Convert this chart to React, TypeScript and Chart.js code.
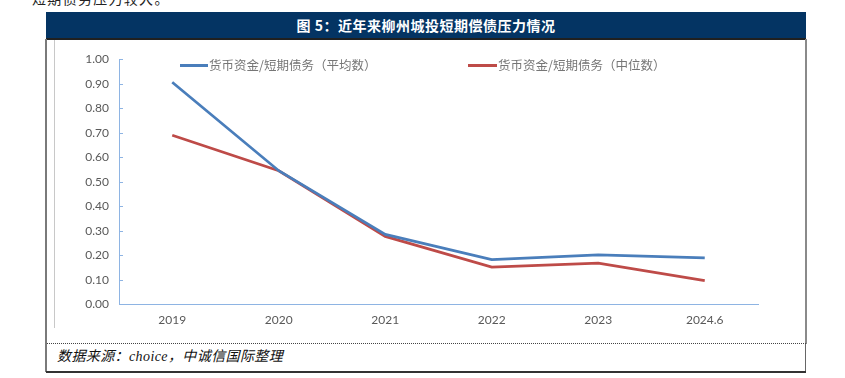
import React, { useEffect, useRef } from "react";
import { Chart, registerables } from "chart.js";

Chart.register(...registerables);

const categories = ["2019", "2020", "2021", "2022", "2023", "2024.6"];
const avgValues = [0.906, 0.545, 0.285, 0.182, 0.202, 0.189];
const medianValues = [0.69, 0.545, 0.277, 0.152, 0.168, 0.097];
const seriesLabels = ["货币资金/短期债务（平均数）", "货币资金/短期债务（中位数）"];
const seriesColors = ["#4A7EBB", "#BE4B48"];
const yMin = 0;
const yMax = 1;
const yStep = 0.1;
const titleText = "图 5：近年来柳州城投短期偿债压力情况";
const sourceText = "数据来源：choice，中诚信国际整理";
const prevText = "短期债务压力较大。";

const axisColor = "#8EB4E3";

const innerTicks = {
  id: "innerTicks",
  afterDraw(chart: any) {
    const y = chart.scales.y;
    const ctx = chart.ctx;
    ctx.save();
    ctx.strokeStyle = axisColor;
    ctx.lineWidth = 1;
    y.ticks.forEach((t: any) => {
      const py = Math.round(y.getPixelForValue(t.value)) + 0.5;
      ctx.beginPath();
      ctx.moveTo(y.right, py);
      ctx.lineTo(y.right + 4, py);
      ctx.stroke();
    });
    ctx.restore();
  },
};

function ChartCanvas() {
  const ref = useRef<HTMLCanvasElement>(null);
  useEffect(() => {
    if (!ref.current) return;
    const chart = new Chart(ref.current, {
      type: "line",
      data: {
        labels: categories,
        datasets: [
          {
            label: seriesLabels[0],
            data: avgValues,
            borderColor: seriesColors[0],
            backgroundColor: seriesColors[0],
            borderWidth: 2.75,
            pointRadius: 0,
            tension: 0,
          },
          {
            label: seriesLabels[1],
            data: medianValues,
            borderColor: seriesColors[1],
            backgroundColor: seriesColors[1],
            borderWidth: 2.75,
            pointRadius: 0,
            tension: 0,
          },
        ],
      },
      options: {
        responsive: false,
        animation: false,
        devicePixelRatio: 1,
        layout: { padding: { top: 13, right: 42, bottom: 0, left: 0 } },
        plugins: { legend: { display: false }, tooltip: { enabled: false } },
        scales: {
          x: {
            offset: true,
            grid: { display: false, drawTicks: false },
            border: { display: true, color: axisColor, width: 1 },
            ticks: {
              padding: 9,
              color: "#595959",
              font: { family: "Lato, 'Liberation Sans', sans-serif", size: 12 },
              maxRotation: 0,
            },
            afterFit: (s: any) => {
              s.height = 29.7;
            },
          },
          y: {
            min: yMin,
            max: yMax,
            grid: { display: false, drawTicks: false },
            border: { display: true, color: axisColor, width: 1 },
            ticks: {
              stepSize: yStep,
              padding: 10,
              color: "#595959",
              font: { family: "Lato, 'Liberation Sans', sans-serif", size: 12 },
              callback: (v: any) => Number(v).toFixed(2),
            },
            afterFit: (s: any) => {
              s.width = 64;
            },
          },
        },
      },
      plugins: [innerTicks],
    });
    return () => chart.destroy();
  }, []);
  return (
    <canvas
      ref={ref}
      width={745}
      height={292}
      style={{ position: "absolute", left: 55, top: 42, width: 745, height: 292 }}
    />
  );
}

export default function App() {
  const abs = (s: React.CSSProperties): React.CSSProperties => ({ position: "absolute", ...s });
  return (
    <div
      style={{
        position: "fixed",
        left: 0,
        top: 0,
        width: 845,
        height: 378,
        background: "#fff",
        overflow: "hidden",
      }}
    >
      <div
        style={abs({
          left: 32,
          top: -11,
          fontSize: 14,
          letterSpacing: 1.3,
          color: "#222",
          fontFamily: "'Noto Sans CJK SC', serif",
          whiteSpace: "nowrap",
          lineHeight: "18px",
        })}
      >
        {prevText}
      </div>
      <div style={abs({ left: 46, top: 12, width: 760, height: 26, background: "#043463" })} />
      <div style={abs({ left: 46, top: 38, width: 760, height: 2, background: "#202020" })} />
      <div
        style={abs({
          left: 46,
          top: 12,
          width: 760,
          height: 26,
          lineHeight: "26px",
          textAlign: "center",
          color: "#fff",
          fontWeight: 600,
          fontSize: 14,
          letterSpacing: 0.5,
          fontFamily: "'Noto Sans CJK SC', serif",
          whiteSpace: "nowrap",
        })}
      >
        {titleText}
      </div>
      <div style={abs({ left: 45, top: 39, width: 2, height: 333, background: "#7a7a7a" })} />
      <div style={abs({ left: 805, top: 39, width: 2, height: 305, background: "#8a8a8a" })} />
      <div style={abs({ left: 805, top: 343, width: 1, height: 29, background: "#666" })} />
      <div style={abs({ left: 46, top: 371, width: 760, height: 2, background: "#333" })} />
      <div style={abs({ left: 47, top: 343, width: 759, height: 0, borderTop: "1px dotted #444" })} />
      <div style={abs({ left: 54, top: 40, width: 1, height: 288, background: "#c8c8c8" })} />
      <ChartCanvas />
      <div style={abs({ left: 180, top: 64, width: 28, height: 3, background: seriesColors[0] })} />
      <div
        style={abs({
          left: 209,
          top: 56,
          fontSize: 12.5,
          lineHeight: "18px",
          color: "#767676",
          fontFamily: "'Noto Sans CJK SC', serif",
          whiteSpace: "nowrap",
        })}
      >
        {seriesLabels[0]}
      </div>
      <div style={abs({ left: 468, top: 64, width: 29, height: 3, background: seriesColors[1] })} />
      <div
        style={abs({
          left: 498,
          top: 56,
          fontSize: 12.5,
          lineHeight: "18px",
          color: "#767676",
          fontFamily: "'Noto Sans CJK SC', serif",
          whiteSpace: "nowrap",
        })}
      >
        {seriesLabels[1]}
      </div>
      <div
        style={abs({
          left: 57,
          top: 347,
          fontSize: 14,
          lineHeight: "20px",
          fontStyle: "italic",
          letterSpacing: 0.4,
          color: "#111",
          fontFamily: "'Liberation Serif', 'Noto Sans CJK SC', serif",
          whiteSpace: "nowrap",
        })}
      >
        {sourceText}
      </div>
    </div>
  );
}
